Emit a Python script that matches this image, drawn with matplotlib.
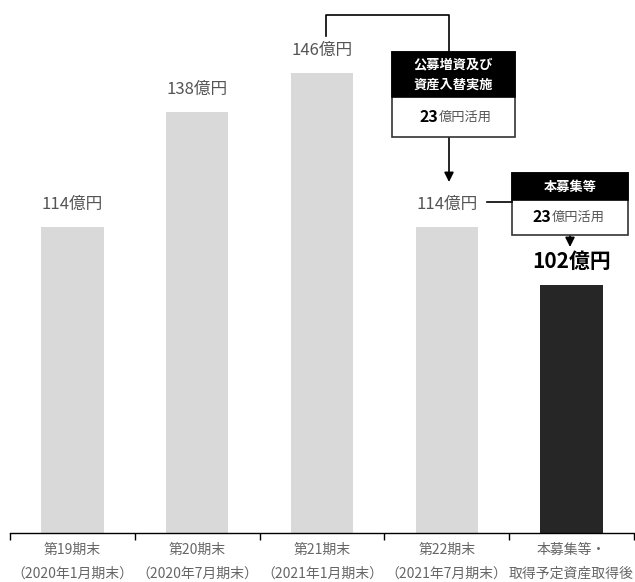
import numpy as np
import matplotlib.pyplot as plt
from matplotlib.patches import Rectangle
from matplotlib.lines import Line2D

plt.rcParams['font.family'] = ['Noto Sans CJK JP', 'DejaVu Sans']

# data
periods = ['第19期末', '第20期末', '第21期末', '第22期末', '本募集等・']
sub_labels = ['（2020年1月期末）', '（2020年7月期末）', '（2021年1月期末）', '（2021年7月期末）', '取得予定資産取得後']
values = [114, 138, 146, 114, 102]
bar_colors = ['#d9d9d9', '#d9d9d9', '#d9d9d9', '#d9d9d9', '#262626']
gray = '#555555'

W, H = 635, 582
fig = plt.figure(figsize=(W / 100, H / 100), dpi=100)


def fx(x):
    return x / W


def fy(y):
    return 1 - y / H


ax = fig.add_axes([fx(10), fy(533), fx(634) - fx(10), fy(0) - fy(533)])
x = np.arange(len(values))
bars = ax.bar(x, values, width=0.5, color=bar_colors)
ax.set_xlim(-0.5, len(values) - 0.5)
ax.set_ylim(50.4, 161.2)

for s in ['top', 'right', 'left']:
    ax.spines[s].set_visible(False)
ax.spines['bottom'].set_color('black')
ax.spines['bottom'].set_linewidth(1.0)
ax.set_yticks([])
ax.set_xticks(x)
ax.set_xticklabels([])
ax.set_xticks(np.arange(-0.5, len(values)), minor=True)
ax.tick_params(axis='x', which='major', length=0)
ax.tick_params(axis='x', which='minor', length=5, width=1, color='black', direction='out')

# category labels (two lines)
for i in x:
    ax.annotate(periods[i], xy=(i, 50.4), xycoords='data', xytext=(0, -12),
                textcoords='offset points', ha='center', va='center',
                fontsize=10, color='#666666')
    ax.annotate(sub_labels[i], xy=(i, 50.4), xycoords='data', xytext=(0, -29),
                textcoords='offset points', ha='center', va='center',
                fontsize=10, color='#666666')

# value labels
for i, v in enumerate(values):
    if i == len(values) - 1:
        ax.annotate('{}億円'.format(v), xy=(i, v), xytext=(0, 17),
                    textcoords='offset points', ha='center', va='center',
                    fontsize=15, fontweight='bold', color='black')
    else:
        ax.annotate('{}億円'.format(v), xy=(i, v), xytext=(0, 16),
                    textcoords='offset points', ha='center', va='center',
                    fontsize=12, color=gray)


def line(xs, ys):
    fig.add_artist(Line2D([fx(a) for a in xs], [fy(b) for b in ys],
                          transform=fig.transFigure, color='black', lw=1.2))


def arrow(x0, y0, y1):
    ax.annotate('', xy=(fx(x0), fy(y1)), xycoords='figure fraction',
                xytext=(fx(x0), fy(y0)), textcoords='figure fraction',
                arrowprops=dict(arrowstyle='-|>', color='black', lw=1.2,
                                mutation_scale=14, shrinkA=0, shrinkB=0))


def box(x0, y0, x1, y1, yh, title):
    fig.add_artist(Rectangle((fx(x0), fy(y1)), fx(x1) - fx(x0), fy(y0) - fy(y1),
                             transform=fig.transFigure, facecolor='white',
                             edgecolor='#333333', lw=1.2))
    fig.add_artist(Rectangle((fx(x0), fy(yh)), fx(x1) - fx(x0), fy(y0) - fy(yh),
                             transform=fig.transFigure, facecolor='black',
                             edgecolor='black', lw=1.2))
    fig.text(fx((x0 + x1) / 2), fy((y0 + yh) / 2), title, ha='center', va='center',
             fontsize=9.5, fontweight='bold', color='white', linespacing=1.5)


def used(xsplit, y):
    fig.text(fx(xsplit), fy(y), '23', ha='right', va='center',
             fontsize=11.5, fontweight='bold', color='black')
    fig.text(fx(xsplit + 1), fy(y), '億円活用', ha='left', va='center',
             fontsize=9.5, color=gray)


# bracket from 146 to 114 via first box
line([326, 326, 449, 449], [36, 15, 15, 52])
box(392, 52, 515, 137, 97, '公募増資及び\n資産入替実施')
used(438, 117)
arrow(449, 137, 182)

# second box
line([487, 512], [202, 202])
box(512, 173, 628, 235, 200, '本募集等')
used(551, 217)
arrow(570, 235, 247)

fig.savefig('out.png', dpi=100)
